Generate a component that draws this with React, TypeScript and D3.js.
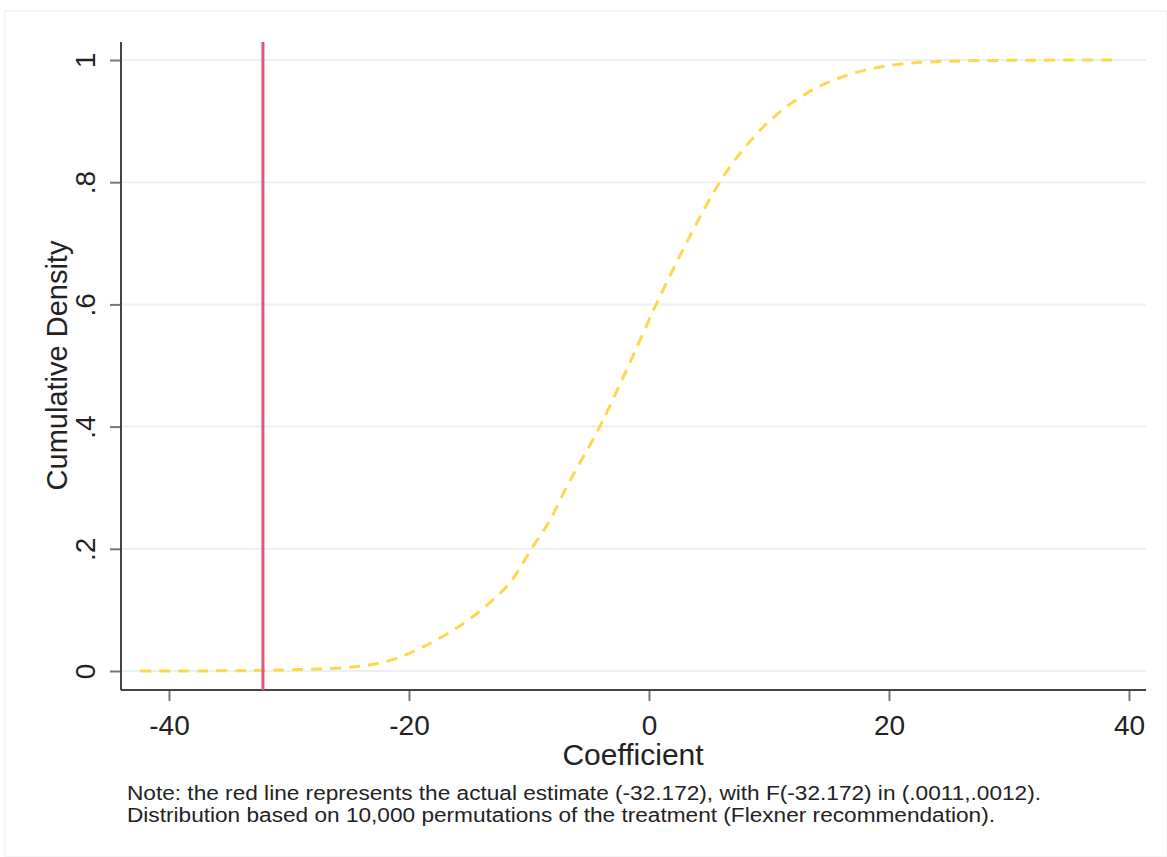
import React, { useEffect, useRef } from 'react';
import * as d3 from 'd3';

// permutation coefficients and their cumulative density
const coefs = [-42.4, -35, -30, -25, -21, -19.1, -16.3, -13.5, -11.3, -9.8, -8.25, -6.9, -4.1, -1.7, 0.6, 3.1, 5.9, 9.5, 13.1, 17, 20.4, 25, 30, 39];
const cdf = [0, 0.0003, 0.002, 0.006, 0.021, 0.037, 0.067, 0.108, 0.152, 0.2, 0.247, 0.3, 0.4, 0.5, 0.6, 0.7, 0.8, 0.89, 0.945, 0.978, 0.992, 0.998, 0.9995, 1];
const actualEstimate = -32.172;
const xTicks = [-40, -20, 0, 20, 40];
const yTicks = [0, 0.2, 0.4, 0.6, 0.8, 1];
const noteLines = [
  'Note: the red line represents the actual estimate (-32.172), with F(-32.172) in (.0011,.0012).',
  'Distribution based on 10,000 permutations of the treatment (Flexner recommendation).',
];

function App() {
  const ref = useRef<SVGSVGElement>(null);

  useEffect(() => {
    const width = 1167, height = 857;
    const left = 121, right = 1146, top = 42, bottom = 690;
    const svg = d3.select(ref.current).attr('width', width).attr('height', height);
    svg.selectAll('*').remove();

    const x = d3.scaleLinear().domain([-40, 40]).range([169, 1129]);
    const y = d3.scaleLinear().domain([0, 1]).range([671, 60]);
    const font = 'Liberation Sans, Arial, sans-serif';

    svg.append('rect').attr('width', width).attr('height', height).attr('fill', '#fff');
    svg.append('rect')
      .attr('x', 5).attr('y', 11).attr('width', width - 5).attr('height', height - 11)
      .attr('fill', 'none').attr('stroke', '#f2f2f2').attr('stroke-width', 1.5);

    // grid
    svg.append('g').selectAll('line').data(yTicks).join('line')
      .attr('x1', left).attr('x2', right)
      .attr('y1', (d) => y(d)).attr('y2', (d) => y(d))
      .attr('stroke', '#eaf1f3').attr('stroke-width', 2);

    // y axis
    const yAxis = svg.append('g')
      .attr('transform', `translate(${left},0)`)
      .call(d3.axisLeft(y).tickValues(yTicks).tickSize(11).tickFormat((d) => {
        const v = +d;
        return v === 0 || v === 1 ? String(v) : String(v).replace('0.', '.');
      }));
    yAxis.select('.domain').remove();
    yAxis.selectAll('.tick line').attr('stroke', '#777').attr('stroke-width', 2);
    yAxis.selectAll('.tick text')
      .attr('x', null).attr('dy', null)
      .attr('transform', 'translate(-33,0) rotate(-90)')
      .attr('text-anchor', 'middle').attr('dominant-baseline', 'middle')
      .attr('font-family', font).attr('font-size', 28).attr('fill', '#222');

    // x axis
    const xAxis = svg.append('g')
      .attr('transform', `translate(0,${bottom})`)
      .call(d3.axisBottom(x).tickValues(xTicks).tickSize(11).tickFormat((d) => String(d)));
    xAxis.select('.domain').remove();
    xAxis.selectAll('.tick line').attr('stroke', '#777').attr('stroke-width', 2);
    xAxis.selectAll('.tick text')
      .attr('y', 45).attr('dy', null)
      .attr('font-family', font).attr('font-size', 28).attr('fill', '#222');

    svg.append('line').attr('x1', left).attr('x2', left).attr('y1', top).attr('y2', bottom)
      .attr('stroke', '#444').attr('stroke-width', 2);
    svg.append('line').attr('x1', left).attr('x2', right).attr('y1', bottom).attr('y2', bottom)
      .attr('stroke', '#444').attr('stroke-width', 2);

    // CDF curve
    const line = d3.line<number>()
      .x((d) => x(d))
      .y((_, i) => y(cdf[i]))
      .curve(d3.curveMonotoneX);
    svg.append('path')
      .datum(coefs)
      .attr('fill', 'none')
      .attr('stroke', '#fcd84e')
      .attr('stroke-width', 3)
      .attr('stroke-dasharray', '11 8')
      .attr('d', line);

    // actual estimate
    svg.append('line')
      .attr('x1', x(actualEstimate)).attr('x2', x(actualEstimate))
      .attr('y1', top).attr('y2', bottom)
      .attr('stroke', '#d95a7a').attr('stroke-width', 3);

    // titles
    svg.append('text')
      .attr('x', 633).attr('y', 765)
      .attr('text-anchor', 'middle')
      .attr('font-family', font).attr('font-size', 30).attr('fill', '#222')
      .text('Coefficient');
    svg.append('text')
      .attr('transform', `translate(67,${(y(0) + y(1)) / 2}) rotate(-90)`)
      .attr('text-anchor', 'middle')
      .attr('font-family', font).attr('font-size', 29).attr('fill', '#222')
      .text('Cumulative Density');

    const noteWidths = [914, 868];
    svg.append('g').selectAll('text').data(noteLines).join('text')
      .attr('x', 127).attr('y', (_, i) => 800 + i * 21.5)
      .attr('textLength', (_, i) => noteWidths[i])
      .attr('lengthAdjust', 'spacingAndGlyphs')
      .attr('font-family', font).attr('font-size', 20).attr('fill', '#222')
      .text((d) => d);
  }, []);

  return <svg ref={ref} style={{ position: 'absolute', left: 0, top: 0 }}></svg>;
}

export default App;
